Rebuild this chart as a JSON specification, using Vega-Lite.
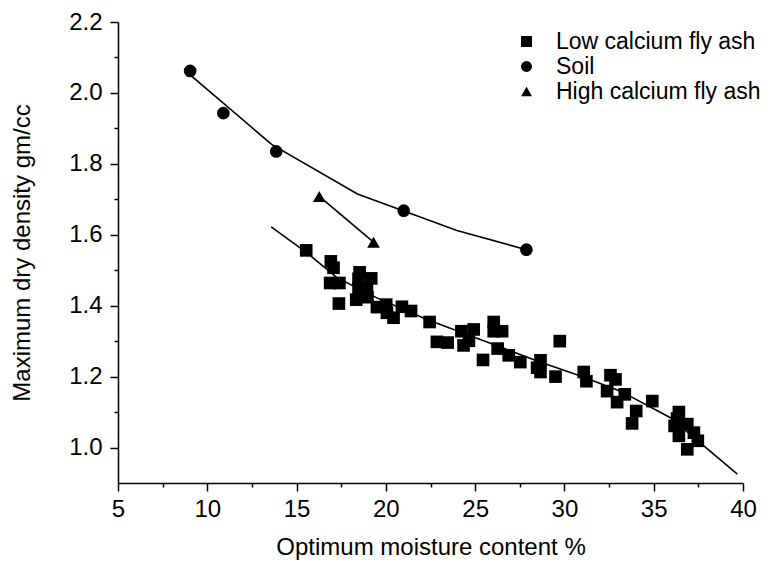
{
  "$schema": "https://vega.github.io/schema/vega-lite/v6.json",
  "width": 625,
  "height": 461,
  "autosize": {"type": "none"},
  "padding": {"left": 118, "top": 22, "right": 36, "bottom": 85},
  "background": "white",
  "config": {
    "view": {"stroke": null},
    "font": "Liberation Sans",
    "axis": {
      "grid": false,
      "domainColor": "black",
      "domainWidth": 1.5,
      "tickColor": "black",
      "tickWidth": 1.5,
      "labelColor": "black",
      "titleColor": "black",
      "labelFont": "Liberation Sans",
      "titleFont": "Liberation Sans",
      "labelFontSize": 24,
      "titleFontSize": 24,
      "titleFontWeight": "normal"
    },
    "legend": {
      "labelFont": "Liberation Sans",
      "labelFontSize": 23,
      "labelColor": "black",
      "labelLimit": 0,
      "padding": 0
    }
  },
  "datasets": {
    "points": [
      {"series": "Low calcium fly ash", "moisture": 15.54, "density": 1.556},
      {"series": "Low calcium fly ash", "moisture": 16.92, "density": 1.525},
      {"series": "Low calcium fly ash", "moisture": 17.07, "density": 1.507},
      {"series": "Low calcium fly ash", "moisture": 16.88, "density": 1.464},
      {"series": "Low calcium fly ash", "moisture": 17.40, "density": 1.464},
      {"series": "Low calcium fly ash", "moisture": 17.37, "density": 1.406},
      {"series": "Low calcium fly ash", "moisture": 18.53, "density": 1.494},
      {"series": "Low calcium fly ash", "moisture": 18.47, "density": 1.476},
      {"series": "Low calcium fly ash", "moisture": 19.18, "density": 1.477},
      {"series": "Low calcium fly ash", "moisture": 18.47, "density": 1.450},
      {"series": "Low calcium fly ash", "moisture": 18.94, "density": 1.448},
      {"series": "Low calcium fly ash", "moisture": 18.34, "density": 1.417},
      {"series": "Low calcium fly ash", "moisture": 18.97, "density": 1.424},
      {"series": "Low calcium fly ash", "moisture": 19.50, "density": 1.396},
      {"series": "Low calcium fly ash", "moisture": 20.02, "density": 1.403},
      {"series": "Low calcium fly ash", "moisture": 20.06, "density": 1.380},
      {"series": "Low calcium fly ash", "moisture": 20.43, "density": 1.366},
      {"series": "Low calcium fly ash", "moisture": 20.90, "density": 1.397},
      {"series": "Low calcium fly ash", "moisture": 21.41, "density": 1.385},
      {"series": "Low calcium fly ash", "moisture": 22.45, "density": 1.354},
      {"series": "Low calcium fly ash", "moisture": 22.86, "density": 1.298},
      {"series": "Low calcium fly ash", "moisture": 23.46, "density": 1.296},
      {"series": "Low calcium fly ash", "moisture": 24.23, "density": 1.328},
      {"series": "Low calcium fly ash", "moisture": 24.92, "density": 1.333},
      {"series": "Low calcium fly ash", "moisture": 24.35, "density": 1.288},
      {"series": "Low calcium fly ash", "moisture": 24.65, "density": 1.301},
      {"series": "Low calcium fly ash", "moisture": 26.04, "density": 1.354},
      {"series": "Low calcium fly ash", "moisture": 26.04, "density": 1.328},
      {"series": "Low calcium fly ash", "moisture": 26.51, "density": 1.328},
      {"series": "Low calcium fly ash", "moisture": 25.44, "density": 1.247},
      {"series": "Low calcium fly ash", "moisture": 26.26, "density": 1.279},
      {"series": "Low calcium fly ash", "moisture": 26.88, "density": 1.260},
      {"series": "Low calcium fly ash", "moisture": 27.53, "density": 1.241},
      {"series": "Low calcium fly ash", "moisture": 29.74, "density": 1.300},
      {"series": "Low calcium fly ash", "moisture": 28.66, "density": 1.246},
      {"series": "Low calcium fly ash", "moisture": 28.47, "density": 1.225},
      {"series": "Low calcium fly ash", "moisture": 28.66, "density": 1.213},
      {"series": "Low calcium fly ash", "moisture": 29.50, "density": 1.200},
      {"series": "Low calcium fly ash", "moisture": 31.08, "density": 1.213},
      {"series": "Low calcium fly ash", "moisture": 31.23, "density": 1.187},
      {"series": "Low calcium fly ash", "moisture": 32.58, "density": 1.204},
      {"series": "Low calcium fly ash", "moisture": 32.86, "density": 1.192},
      {"series": "Low calcium fly ash", "moisture": 32.39, "density": 1.159},
      {"series": "Low calcium fly ash", "moisture": 32.95, "density": 1.128},
      {"series": "Low calcium fly ash", "moisture": 33.38, "density": 1.150},
      {"series": "Low calcium fly ash", "moisture": 34.92, "density": 1.131},
      {"series": "Low calcium fly ash", "moisture": 34.02, "density": 1.103},
      {"series": "Low calcium fly ash", "moisture": 33.79, "density": 1.068},
      {"series": "Low calcium fly ash", "moisture": 36.41, "density": 1.100},
      {"series": "Low calcium fly ash", "moisture": 36.31, "density": 1.082},
      {"series": "Low calcium fly ash", "moisture": 36.17, "density": 1.061},
      {"series": "Low calcium fly ash", "moisture": 36.88, "density": 1.066},
      {"series": "Low calcium fly ash", "moisture": 36.41, "density": 1.033},
      {"series": "Low calcium fly ash", "moisture": 37.25, "density": 1.042},
      {"series": "Low calcium fly ash", "moisture": 37.47, "density": 1.019},
      {"series": "Low calcium fly ash", "moisture": 36.88, "density": 0.995},
      {"series": "Soil", "moisture": 9.04, "density": 2.062},
      {"series": "Soil", "moisture": 10.9, "density": 1.943},
      {"series": "Soil", "moisture": 13.86, "density": 1.835},
      {"series": "Soil", "moisture": 21.0, "density": 1.668},
      {"series": "Soil", "moisture": 27.87, "density": 1.558},
      {"series": "High calcium fly ash", "moisture": 16.27, "density": 1.708},
      {"series": "High calcium fly ash", "moisture": 19.31, "density": 1.579}
    ],
    "fits": [
      {"series": "Low calcium fly ash", "moisture": 13.58, "density": 1.622},
      {"series": "Low calcium fly ash", "moisture": 15.58, "density": 1.549},
      {"series": "Low calcium fly ash", "moisture": 17.26, "density": 1.479},
      {"series": "Low calcium fly ash", "moisture": 19.50, "density": 1.422},
      {"series": "Low calcium fly ash", "moisture": 22.30, "density": 1.361},
      {"series": "Low calcium fly ash", "moisture": 25.29, "density": 1.305},
      {"series": "Low calcium fly ash", "moisture": 28.47, "density": 1.244},
      {"series": "Low calcium fly ash", "moisture": 30.90, "density": 1.202},
      {"series": "Low calcium fly ash", "moisture": 33.14, "density": 1.159},
      {"series": "Low calcium fly ash", "moisture": 35.94, "density": 1.084},
      {"series": "Low calcium fly ash", "moisture": 39.68, "density": 0.925},
      {"series": "Soil", "moisture": 9.04, "density": 2.051},
      {"series": "Soil", "moisture": 13.6, "density": 1.855},
      {"series": "Soil", "moisture": 18.41, "density": 1.715},
      {"series": "Soil", "moisture": 23.98, "density": 1.612},
      {"series": "Soil", "moisture": 27.87, "density": 1.558},
      {"series": "High calcium fly ash", "moisture": 16.27, "density": 1.708},
      {"series": "High calcium fly ash", "moisture": 19.31, "density": 1.579}
    ]
  },
  "layer": [
    {
      "data": {"name": "fits"},
      "mark": {"type": "line", "color": "black", "strokeWidth": 1.6},
      "encoding": {
        "x": {
          "field": "moisture",
          "type": "quantitative",
          "scale": {"domain": [5, 40], "nice": false, "zero": false},
          "axis": {
            "orient": "bottom",
            "title": "Optimum moisture content %",
            "values": [5, 10, 15, 20, 25, 30, 35, 40],
            "tickSize": 8,
            "labelPadding": 6,
            "titlePadding": 14,
            "labelFlush": false
          }
        },
        "y": {
          "field": "density",
          "type": "quantitative",
          "scale": {"domain": [0.9, 2.2], "nice": false, "zero": false},
          "axis": {
            "orient": "left",
            "title": "Maximum dry density gm/cc",
            "values": [1.0, 1.2, 1.4, 1.6, 1.8, 2.0, 2.2],
            "format": ".1f",
            "tickSize": 8,
            "labelPadding": 8,
            "titlePadding": 34,
            "labelFlush": false
          }
        },
        "detail": {"field": "series"}
      }
    },
    {
      "data": {"name": "fits"},
      "mark": {"type": "point", "opacity": 0},
      "encoding": {
        "x": {
          "field": "moisture",
          "type": "quantitative",
          "axis": {
            "orient": "bottom",
            "values": [7.5, 12.5, 17.5, 22.5, 27.5, 32.5, 37.5],
            "tickSize": 4,
            "labels": false,
            "domain": false,
            "title": null
          }
        },
        "y": {
          "field": "density",
          "type": "quantitative",
          "axis": {
            "orient": "left",
            "values": [1.1, 1.3, 1.5, 1.7, 1.9, 2.1],
            "tickSize": 4,
            "labels": false,
            "domain": false,
            "title": null
          }
        }
      }
    },
    {
      "data": {"name": "points"},
      "mark": {"type": "point", "filled": true, "color": "black", "opacity": 1, "size": 160},
      "encoding": {
        "x": {"field": "moisture", "type": "quantitative", "axis": null},
        "y": {"field": "density", "type": "quantitative", "axis": null},
        "shape": {
          "field": "series",
          "type": "nominal",
          "scale": {
            "domain": ["Low calcium fly ash", "Soil", "High calcium fly ash"],
            "range": ["square", "circle", "triangle-up"]
          },
          "legend": {
            "title": null,
            "orient": "none",
            "legendX": 397,
            "legendY": 8,
            "symbolSize": 120,
            "symbolFillColor": "black",
            "symbolStrokeColor": "black",
            "symbolStrokeWidth": 0,
            "labelOffset": 18,
            "labelLimit": 0,
            "rowPadding": 1
          }
        }
      }
    }
  ],
  "resolve": {"axis": {"x": "independent", "y": "independent"}}
}
